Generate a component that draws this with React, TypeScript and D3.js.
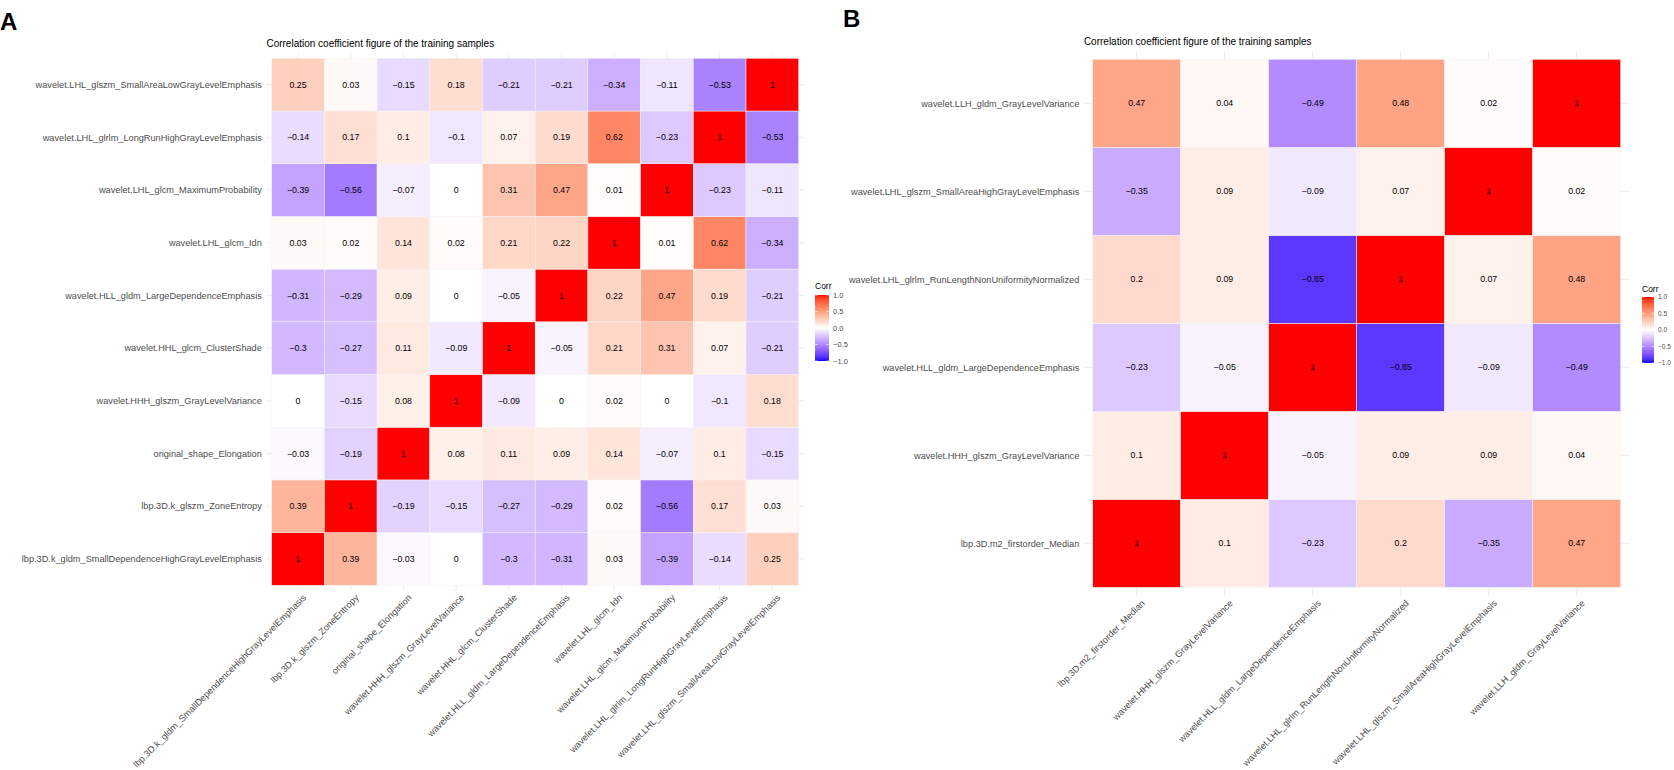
import * as d3 from "d3";
import { useEffect, useRef } from "react";

const TITLE = "Correlation coefficient figure of the training samples";

// panel A: variables (x left→right, y bottom→top) and correlation rows in the same order
const varsA = [
  "lbp.3D.k_gldm_SmallDependenceHighGrayLevelEmphasis",
  "lbp.3D.k_glszm_ZoneEntropy",
  "original_shape_Elongation",
  "wavelet.HHH_glszm_GrayLevelVariance",
  "wavelet.HHL_glcm_ClusterShade",
  "wavelet.HLL_gldm_LargeDependenceEmphasis",
  "wavelet.LHL_glcm_Idn",
  "wavelet.LHL_glcm_MaximumProbability",
  "wavelet.LHL_glrlm_LongRunHighGrayLevelEmphasis",
  "wavelet.LHL_glszm_SmallAreaLowGrayLevelEmphasis",
];

const corrA = [
  [1, 0.39, -0.03, 0, -0.3, -0.31, 0.03, -0.39, -0.14, 0.25],
  [0.39, 1, -0.19, -0.15, -0.27, -0.29, 0.02, -0.56, 0.17, 0.03],
  [-0.03, -0.19, 1, 0.08, 0.11, 0.09, 0.14, -0.07, 0.1, -0.15],
  [0, -0.15, 0.08, 1, -0.09, 0, 0.02, 0, -0.1, 0.18],
  [-0.3, -0.27, 0.11, -0.09, 1, -0.05, 0.21, 0.31, 0.07, -0.21],
  [-0.31, -0.29, 0.09, 0, -0.05, 1, 0.22, 0.47, 0.19, -0.21],
  [0.03, 0.02, 0.14, 0.02, 0.21, 0.22, 1, 0.01, 0.62, -0.34],
  [-0.39, -0.56, -0.07, 0, 0.31, 0.47, 0.01, 1, -0.23, -0.11],
  [-0.14, 0.17, 0.1, -0.1, 0.07, 0.19, 0.62, -0.23, 1, -0.53],
  [0.25, 0.03, -0.15, 0.18, -0.21, -0.21, -0.34, -0.11, -0.53, 1],
];

// panel B
const varsB = [
  "lbp.3D.m2_firstorder_Median",
  "wavelet.HHH_glszm_GrayLevelVariance",
  "wavelet.HLL_gldm_LargeDependenceEmphasis",
  "wavelet.LHL_glrlm_RunLengthNonUniformityNormalized",
  "wavelet.LHL_glszm_SmallAreaHighGrayLevelEmphasis",
  "wavelet.LLH_gldm_GrayLevelVariance",
];

const corrB = [
  [1, 0.1, -0.23, 0.2, -0.35, 0.47],
  [0.1, 1, -0.05, 0.09, 0.09, 0.04],
  [-0.23, -0.05, 1, -0.85, -0.09, -0.49],
  [0.2, 0.09, -0.85, 1, 0.07, 0.48],
  [-0.35, 0.09, -0.09, 0.07, 1, 0.02],
  [0.47, 0.04, -0.49, 0.48, 0.02, 1],
];

const legendTicks = [-1, -0.5, 0, 0.5, 1];

const FONT = "'Liberation Sans', Arial, Helvetica, sans-serif";
const AXIS_GREY = "#4D4D4D";
const GRID = "#EBEBEB";

const fmtCell = (v: number) => String(v).replace("-", "\u2212");
const fmtLegend = (v: number) => v.toFixed(1).replace("-", "\u2212");

// same idea as ggplot's scale_fill_gradient2(low = "blue", mid = "white", high = "red"), Lab space
const fillColor = (v: number) =>
  v >= 0 ? d3.interpolateLab("#FFFFFF", "#FF0000")(v) : d3.interpolateLab("#FFFFFF", "#0000FF")(-v);

interface PanelLayout {
  id: string;
  letter: string;
  letterX: number;
  letterY: number;
  left: number;
  top: number;
  cell: number;
  titleY: number;
  legendX: number;
  legendTitleY: number;
  barTop: number;
  barW: number;
  barH: number;
  legendLabelSize: number;
}

const layoutA: PanelLayout = {
  id: "A",
  letter: "A",
  letterX: 0,
  letterY: 30,
  left: 271.7,
  top: 58.3,
  cell: 52.7,
  titleY: 46.6,
  legendX: 815,
  legendTitleY: 288.5,
  barTop: 295,
  barW: 14,
  barH: 66,
  legendLabelSize: 7.5,
};

const layoutB: PanelLayout = {
  id: "B",
  letter: "B",
  letterX: 843,
  letterY: 27,
  left: 1092.7,
  top: 59.3,
  cell: 88,
  titleY: 45.3,
  legendX: 1642,
  legendTitleY: 292,
  barTop: 297,
  barW: 12,
  barH: 66,
  legendLabelSize: 6.5,
};

function drawPanel(
  svg: d3.Selection<SVGSVGElement, unknown, null, undefined>,
  vars: string[],
  corr: number[][],
  L: PanelLayout
) {
  const n = vars.length;
  const right = L.left + n * L.cell;
  const bottom = L.top + n * L.cell;
  const ext = L.cell * 0.1;

  const x = d3.scaleBand<string>().domain(vars).range([L.left, right]).padding(0);
  const y = d3.scaleBand<string>().domain(vars.slice().reverse()).range([L.top, bottom]).padding(0);
  const bw = x.bandwidth();

  const g = svg.append("g").attr("font-family", FONT);

  g.append("text")
    .attr("x", L.letterX)
    .attr("y", L.letterY)
    .attr("font-size", 24)
    .attr("font-weight", "bold")
    .attr("fill", "#000")
    .text(L.letter);

  g.append("text")
    .attr("x", L.left - ext)
    .attr("y", L.titleY)
    .attr("font-size", 10)
    .attr("fill", "#000")
    .text(TITLE);

  // major grid lines (theme_minimal), visible in the panel expansion
  g.append("g")
    .selectAll("line")
    .data(vars)
    .join("line")
    .attr("x1", (d) => x(d)! + bw / 2)
    .attr("x2", (d) => x(d)! + bw / 2)
    .attr("y1", L.top - ext)
    .attr("y2", bottom + ext)
    .attr("stroke", GRID)
    .attr("stroke-width", 1);

  g.append("g")
    .selectAll("line")
    .data(vars)
    .join("line")
    .attr("x1", L.left - ext)
    .attr("x2", right + ext)
    .attr("y1", (d) => y(d)! + bw / 2)
    .attr("y2", (d) => y(d)! + bw / 2)
    .attr("stroke", GRID)
    .attr("stroke-width", 1);

  const cells = vars.flatMap((rv, i) => vars.map((cv, j) => ({ row: rv, col: cv, value: corr[i][j] })));

  g.append("g")
    .selectAll("rect")
    .data(cells)
    .join("rect")
    .attr("x", (d) => x(d.col)!)
    .attr("y", (d) => y(d.row)!)
    .attr("width", bw)
    .attr("height", y.bandwidth())
    .attr("fill", (d) => fillColor(d.value))
    .attr("stroke", "#F3F3F3")
    .attr("stroke-width", 0.5);

  g.append("g")
    .selectAll("text")
    .data(cells)
    .join("text")
    .attr("x", (d) => x(d.col)! + bw / 2)
    .attr("y", (d) => y(d.row)! + y.bandwidth() / 2)
    .attr("dy", "0.35em")
    .attr("text-anchor", "middle")
    .attr("font-size", 8.8)
    .attr("fill", "#000")
    .text((d) => fmtCell(d.value));

  // y axis labels
  g.append("g")
    .selectAll("text")
    .data(vars)
    .join("text")
    .attr("x", L.left - ext - 4.6)
    .attr("y", (d) => y(d)! + y.bandwidth() / 2)
    .attr("dy", "0.35em")
    .attr("text-anchor", "end")
    .attr("font-size", 9.2)
    .attr("fill", AXIS_GREY)
    .text((d) => d);

  // x axis labels, rotated 45°
  g.append("g")
    .selectAll("text")
    .data(vars)
    .join("text")
    .attr("transform", (d) => `translate(${x(d)! + bw / 2 + 4},${bottom + ext + 3}) rotate(-45)`)
    .attr("dy", "0.72em")
    .attr("text-anchor", "end")
    .attr("font-size", 9.2)
    .attr("fill", AXIS_GREY)
    .text((d) => d);

  // colour bar legend
  const gradId = `corr-grad-${L.id}`;
  const grad = svg
    .append("defs")
    .append("linearGradient")
    .attr("id", gradId)
    .attr("x1", 0)
    .attr("x2", 0)
    .attr("y1", 1)
    .attr("y2", 0);
  d3.range(0, 41).forEach((k) => {
    const v = -1 + k / 20;
    grad
      .append("stop")
      .attr("offset", `${(k / 40) * 100}%`)
      .attr("stop-color", fillColor(v));
  });

  const legY = d3.scaleLinear().domain([-1, 1]).range([L.barTop + L.barH, L.barTop]);

  g.append("text")
    .attr("x", L.legendX)
    .attr("y", L.legendTitleY)
    .attr("font-size", 8.5)
    .attr("fill", "#000")
    .text("Corr");

  g.append("rect")
    .attr("x", L.legendX)
    .attr("y", L.barTop)
    .attr("width", L.barW)
    .attr("height", L.barH)
    .attr("fill", `url(#${gradId})`);

  const tickLen = L.barW / 5;
  for (const t of legendTicks) {
    g.append("line")
      .attr("x1", L.legendX)
      .attr("x2", L.legendX + tickLen)
      .attr("y1", legY(t))
      .attr("y2", legY(t))
      .attr("stroke", "#fff")
      .attr("stroke-width", 0.6);
    g.append("line")
      .attr("x1", L.legendX + L.barW - tickLen)
      .attr("x2", L.legendX + L.barW)
      .attr("y1", legY(t))
      .attr("y2", legY(t))
      .attr("stroke", "#fff")
      .attr("stroke-width", 0.6);
  }

  g.append("g")
    .selectAll("text")
    .data(legendTicks)
    .join("text")
    .attr("x", L.legendX + L.barW + 4)
    .attr("y", (d) => legY(d))
    .attr("dy", "0.35em")
    .attr("font-size", L.legendLabelSize)
    .attr("fill", AXIS_GREY)
    .text((d) => fmtLegend(d));
}

export default function App(): JSX.Element {
  const svgRef = useRef<SVGSVGElement>(null);

  useEffect(() => {
    if (!svgRef.current) return;
    const svg = d3.select(svgRef.current);
    svg.selectAll("*").remove();
    drawPanel(svg, varsA, corrA, layoutA);
    drawPanel(svg, varsB, corrB, layoutB);
  }, []);

  return (
    <svg
      ref={svgRef}
      width={1674}
      height={770}
      style={{ position: "absolute", left: 0, top: 0, background: "#fff" }}
    />
  );
}
